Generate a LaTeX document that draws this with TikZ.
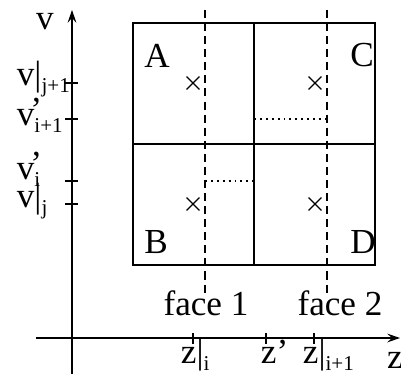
\documentclass[tikz,border=0pt]{standalone}
\usepackage{fontspec}
\setmainfont{Liberation Serif}
\usepackage{tikz}
\usetikzlibrary{arrows.meta,shapes.misc}

% low subscript and prime as in the figure
\newcommand{\lo}[1]{\raisebox{-0.22em}{\fontsize{15}{15}\selectfont #1}}
\newcommand{\pr}{\rlap{\kern-0.12em\raisebox{0.1em}{’}}}

\begin{document}
\begin{tikzpicture}[font=\fontsize{25}{30}\selectfont, line width=1.3pt,
	lbl/.style={inner sep=0pt},
	axis/.style={-{Stealth[length=3.2mm,width=2.2mm,inset=1.2mm]}},
	centre/.style={draw, cross out, minimum size=2.9mm, inner sep=0pt, line width=0.9pt},
	facebound/.style={line width=1pt, dash pattern=on 5.7pt off 3.6pt},
	fluxline/.style={line width=1pt, dash pattern=on 1.4pt off 2.8pt}]
	\useasboundingbox (0,0) rectangle (10.025,9.35);
	
	% Axes
	\coordinate (vbot) at (1.8,0);
	\coordinate (vtop) at (1.8,9.1);
	\coordinate (zleft) at (0.9,0.9);
	\coordinate (zright) at (10.0,0.9);
	\draw[axis] (vbot) -- (vtop);
	\draw[axis] (zleft) -- (zright);
	\node[lbl] (vlab) at (1.125,8.8) {v};
	\node[lbl] (zlab) at (9.875,0.35) {z};
	
	% Ticks on v
	\foreach \y/\name in {7.275/vjp, 6.375/vip, 4.825/vi, 4.25/vj} {
		\draw (1.625,\y) coordinate (\name) -- (1.95,\y);
	}
	\node[lbl, anchor=mid west] (vjplab) at (0.4,7.3) {v|\lo{j+1}};
	\node[lbl, anchor=mid west] (viplab) at (0.4,6.3) {v\pr\lo{i+1}};
	\node[lbl, anchor=mid west] (vilab) at (0.4,4.95) {v\pr\lo{i}};
	\node[lbl, anchor=mid west] (vjlab) at (0.4,4.25) {v|\lo{j}};
	
	% Ticks on z
	\foreach \x/\name in {4.825/zi, 6.65/zp, 7.85/zip} {
		\draw (\x,1.025) coordinate (\name) -- (\x,0.75);
	}
	\node[lbl, anchor=mid west] (zilab) at (4.5,0.35) {z|\lo{i}};
	\node[lbl, anchor=mid west] (zplab) at (6.5,0.35) {z’};
	\node[lbl, anchor=mid west] (ziplab) at (7.55,0.35) {z|\lo{i+1}};
	
	% Cells
	\coordinate (sw) at (3.325,2.725);
	\coordinate (ne) at (9.375,8.775);
	\coordinate (wmid) at (3.325,5.75);
	\coordinate (emid) at (9.375,5.75);
	\coordinate (smid) at (6.35,2.725);
	\coordinate (nmid) at (6.35,8.775);
	\draw (sw) rectangle (ne);
	\draw (wmid) -- (emid);
	\draw (smid) -- (nmid);
	\node[lbl] (A) at (3.925,7.95) {A};
	\node[lbl] (B) at (3.9,3.3) {B};
	\node[lbl] (C) at (9.05,7.975) {C};
	\node[lbl] (D) at (9.075,3.3) {D};
	
	% Cell centres
	\node[centre] (xa) at (4.825,7.275) {};
	\node[centre] (xb) at (4.825,4.25) {};
	\node[centre] (xc) at (7.875,7.275) {};
	\node[centre] (xd) at (7.875,4.25) {};
	
	% Faces
	\coordinate (f1top) at (5.125,9.1);
	\coordinate (f1bot) at (5.125,1.975);
	\coordinate (f2top) at (8.175,9.1);
	\coordinate (f2bot) at (8.175,1.975);
	\draw[facebound] (f1top) -- (f1bot);
	\draw[facebound] (f2top) -- (f2bot);
	\node[lbl, anchor=base] (face1) at (5.15,1.475) {face 1};
	\node[lbl, anchor=base] (face2) at (8.5,1.475) {face 2};
	
	% Dotted levels
	\coordinate (d1a) at (5.125,4.825);
	\coordinate (d1b) at (6.35,4.825);
	\coordinate (d2a) at (6.35,6.375);
	\coordinate (d2b) at (8.175,6.375);
	\draw[fluxline] (d1a) -- (d1b);
	\draw[fluxline] (d2a) -- (d2b);
\end{tikzpicture}
\end{document}
